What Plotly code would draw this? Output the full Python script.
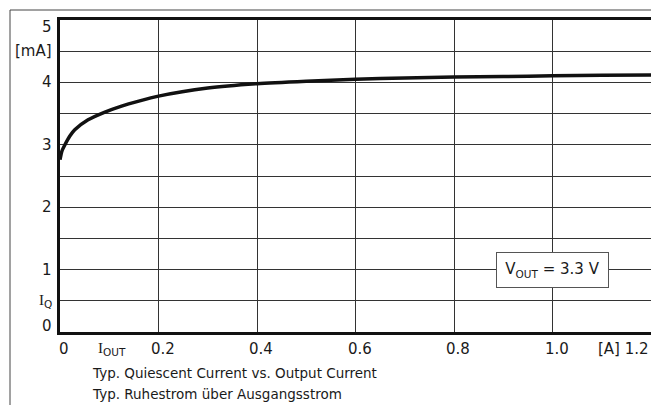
import plotly.graph_objects as go

# data
iout = [0.0, 0.004, 0.01, 0.02, 0.03, 0.057, 0.09, 0.125, 0.16, 0.2, 0.3, 0.4, 0.5, 0.6, 0.7, 0.8, 0.9, 1.0, 1.1, 1.2]
iq = [2.76, 2.9, 3.0, 3.14, 3.24, 3.40, 3.52, 3.62, 3.70, 3.78, 3.91, 3.98, 4.02, 4.05, 4.07, 4.085, 4.095, 4.105, 4.115, 4.12]

x_tick_vals = [0, 0.105, 0.2, 0.4, 0.6, 0.8, 1.0]
x_tick_text = ["0", "<span style='font-family:Liberation Serif'>I</span><sub>OUT</sub>", "0.2", "0.4", "0.6", "0.8", "1.0"]
x_end_text = "[A] 1.2"
y_tick_vals = [0, 0.5, 1, 2, 3, 4, 4.5, 5]
y_tick_text = ["0", "<span style='font-family:Liberation Serif'>I</span><sub>Q</sub>", "1", "2", "3", "4", "[mA]", "5"]
caption = ["Typ. Quiescent Current vs. Output Current", "Typ. Ruhestrom über Ausgangsstrom"]
vout_label = "V<sub>OUT</sub> = 3.3 V"

FONT = "DejaVu Sans"
TXT = "#1a1a1a"
TS = 15

fig = go.Figure()
fig.add_trace(go.Scatter(x=iout, y=iq, mode="lines", line=dict(color="#111", width=3.5, shape="spline", smoothing=0.6),
                         hoverinfo="skip", showlegend=False))

W, H = 651, 405
L, R, T, B = 60, 0, 20, 73
pw, ph = W - L - R, H - T - B

fig.update_layout(
    width=W, height=H, margin=dict(l=L, r=R, t=T, b=B),
    paper_bgcolor="white", plot_bgcolor="white",
    font=dict(family=FONT, size=TS, color=TXT),
    showlegend=False,
    xaxis=dict(range=[0, 1.2], dtick=0.2, tick0=0, showgrid=True, gridcolor="#333", gridwidth=1,
               showline=True, linecolor="#111", linewidth=2.5, mirror=True,
               showticklabels=False, ticks="", zeroline=False, fixedrange=True),
    yaxis=dict(range=[0, 5], dtick=0.5, tick0=0, showgrid=True, gridcolor="#333", gridwidth=1,
               showline=True, linecolor="#111", linewidth=2.5, mirror=False,
               showticklabels=False, ticks="", zeroline=False, fixedrange=True),
)

ann = []
for v, t in zip(x_tick_vals, x_tick_text):
    ann.append(dict(x=v, y=0, xref="x", yref="y", text=t, showarrow=False, xanchor="center", yanchor="middle",
                    xshift=4 if v != 0.105 else 0, yshift=-17, font=dict(family=FONT, size=TS, color=TXT)))
ann.append(dict(x=1, y=0, xref="paper", yref="y", text=x_end_text, showarrow=False, xanchor="right", yanchor="middle",
                xshift=0, yshift=-17, font=dict(family=FONT, size=TS, color=TXT)))
for v, t in zip(y_tick_vals, y_tick_text):
    ys = 0
    if v == 5:
        ys = -7
    elif v == 0:
        ys = 6
    ann.append(dict(x=0, y=v, xref="paper", yref="y", text=t, showarrow=False, xanchor="right", yanchor="middle",
                    xshift=-6, yshift=ys, font=dict(family=FONT, size=TS, color=TXT)))
for i, c in enumerate(caption):
    ann.append(dict(x=(90 - L) / pw, y=-(373 + 21 * i - (T + ph)) / ph, xref="paper", yref="paper", text=c,
                    showarrow=False, xanchor="left", yanchor="middle", font=dict(family=FONT, size=13.5, color=TXT)))
ann.append(dict(x=1.0, y=1.0, xref="x", yref="y", text=vout_label, showarrow=False, xanchor="center", yanchor="middle",
                bgcolor="white", bordercolor="#555", borderwidth=1, borderpad=0, width=111, height=34,
                font=dict(family=FONT, size=TS, color=TXT)))
fig.update_layout(annotations=ann)

# outer frame
fx = (10 - L) / pw
fy = (T + ph - 10) / ph
fig.add_shape(type="line", xref="paper", yref="paper", x0=fx, x1=fx, y0=fy, y1=-(H - T - ph + 5) / ph,
              line=dict(color="#444", width=1))
fig.add_shape(type="line", xref="paper", yref="paper", x0=fx, x1=1.05, y0=fy, y1=fy,
              line=dict(color="#444", width=1))

fig.write_html("out.html", config={"displayModeBar": False},
               post_script="document.body.style.margin='0';document.body.style.overflow='hidden';")
